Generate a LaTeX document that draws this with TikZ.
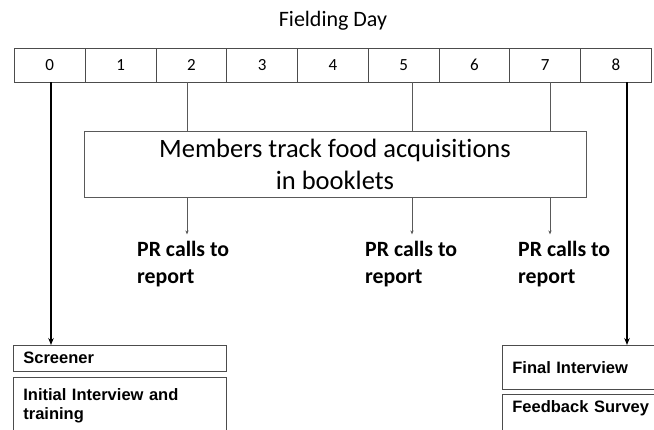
\documentclass[tikz,border=0pt]{standalone}
\usepackage{fontspec}
\setmainfont{Carlito}[Ligatures=NoCommon]
\newfontfamily\arialfont{Liberation Sans}
\usetikzlibrary{arrows.meta}
\begin{document}
\begin{tikzpicture}[x=1pt,y=-1pt,
  daycell/.style={draw=black!70, line width=0.8pt, anchor=north west,
    minimum width=70.78pt, minimum height=34pt, inner sep=0pt,
    text height=11pt, text depth=0pt,
    font=\fontsize{17}{19}\selectfont},
  feed/.style={draw=black!65, line width=0.8pt},
  smallarrow/.style={feed, -{Stealth[length=4pt,width=3.2pt]}},
  bigarrow/.style={draw=black, line width=1.3pt, -{Stealth[length=7pt,width=5.5pt]}},
  prtext/.style={anchor=north west, align=left, inner sep=0pt,
    font=\fontsize{21.8}{26.5}\selectfont\bfseries},
  taskbox/.style={draw=black!70, line width=0.8pt, anchor=north west,
    align=left, inner xsep=10pt, font=\arialfont\bfseries\fontsize{16.5}{19}\selectfont}
]
\clip (0,0) rectangle (654,429);

% title
\node[font=\fontsize{22}{26}\selectfont] (title) at (333,21) {Fielding Day};

% day cells of the timeline
\foreach \i in {0,...,8}
  \node[daycell] (d\i) at ({14+70.78*\i},48) {\i};

% drop points along the bottom edge of the timeline
\coordinate (c0) at (51,82);
\coordinate (c2) at (187,82);
\coordinate (c5) at (412,82);
\coordinate (c7) at (550,82);
\coordinate (c8) at (627,82);

% booklet tracking box
\node[draw=black!65, line width=0.8pt, minimum width=502pt, minimum height=66pt,
  inner sep=0pt, align=center, font=\fontsize{26.5}{32}\selectfont] (members) at (335,164)
  {Members track food acquisitions\\in booklets};

% phone reminder labels
\node[prtext] (pr1) at (137,241) {PR calls to\\report};
\node[prtext] (pr2) at (365,241) {PR calls to\\report};
\node[prtext] (pr3) at (518,241) {PR calls to\\report};

% start and end tasks
\node[taskbox, text width=193pt, inner ysep=0pt, text height=18pt, text depth=8pt]
  (screener) at (13,345) {Screener};
\node[taskbox, text width=193pt, minimum height=56pt] (initial) at (13,377)
  {Initial Interview and\\training};
\node[taskbox, text width=150pt, inner ysep=0pt, text height=28pt, text depth=16pt]
  (final) at (502,345) {Final Interview};
\node[taskbox, text width=150pt, inner ysep=0pt, text height=18pt, text depth=30pt]
  (feedback) at (502,394) {Feedback Survey};

% connectors
\draw[feed] (c2) -- (c2 |- members.north);
\draw[feed] (c5) -- (c5 |- members.north);
\draw[feed] (c7) -- (c7 |- members.north);
\draw[smallarrow] (c2 |- members.south) -- ++(0,37);
\draw[smallarrow] (c5 |- members.south) -- ++(0,37);
\draw[smallarrow] (c7 |- members.south) -- ++(0,37);
\draw[bigarrow] (c0) -- (c0 |- screener.north);
\draw[bigarrow] (c8) -- (c8 |- final.north);
\end{tikzpicture}
\end{document}
